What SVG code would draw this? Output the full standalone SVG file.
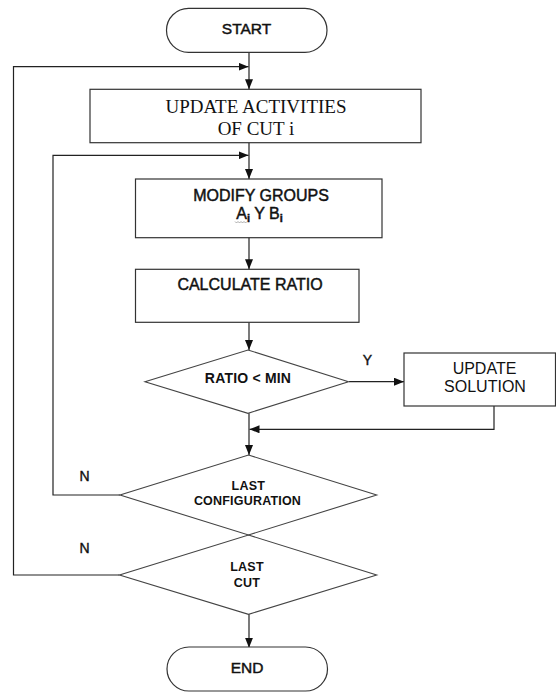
<svg xmlns="http://www.w3.org/2000/svg" width="556" height="693" viewBox="0 0 556 693">
<style>
.shape{fill:#fff;stroke:#333;stroke-width:1.2}
.dia{fill:none;stroke:#444;stroke-width:1.1}
.ln{fill:none;stroke:#222;stroke-width:1.2}
.t{font-family:"Liberation Sans",Arial,sans-serif;font-size:16px;fill:#111;text-anchor:middle}
.m{stroke:#111;stroke-width:0.45}
.s{font-family:"Liberation Serif","Times New Roman",serif;font-size:19px;fill:#111;text-anchor:middle}
.b{font-family:"Liberation Sans",Arial,sans-serif;font-size:12.5px;font-weight:bold;fill:#111;text-anchor:middle;letter-spacing:0.2px}
.lbl{font-family:"Liberation Sans",Arial,sans-serif;font-size:14px;fill:#111;text-anchor:middle;stroke:#111;stroke-width:0.4}
</style>
<defs>
<marker id="ah" markerWidth="10" markerHeight="8" refX="10" refY="4" orient="auto" markerUnits="userSpaceOnUse">
<path d="M0,0 L10,4 L0,8 Z" fill="#111"/>
</marker>
</defs>
<rect width="556" height="693" fill="#fff"/>
<g id="connectors">
<line class="ln" x1="249" y1="52.3" x2="249" y2="89.3" marker-end="url(#ah)"/>
<polyline class="ln" points="119.5,575 13.5,575 13.5,66.7 248.5,66.7" marker-end="url(#ah)"/>
<line class="ln" x1="249" y1="142.7" x2="249" y2="179" marker-end="url(#ah)"/>
<polyline class="ln" points="120,495 53,495 53,155.3 248.5,155.3" marker-end="url(#ah)"/>
<line class="ln" x1="249" y1="231.5" x2="249" y2="269.3" marker-end="url(#ah)"/>
<line class="ln" x1="249" y1="322.3" x2="249" y2="350" marker-end="url(#ah)"/>
<line class="ln" x1="349" y1="381.7" x2="404" y2="381.7" marker-end="url(#ah)"/>
<polyline class="ln" points="494,406 494,429.3 249.5,429.3" marker-end="url(#ah)"/>
<line class="ln" x1="249" y1="413.3" x2="249" y2="455" marker-end="url(#ah)"/>
<line class="ln" x1="249" y1="614.3" x2="249" y2="647.7" marker-end="url(#ah)"/>
<text class="lbl" x="367.5" y="365">Y</text>
<text class="lbl" x="84.5" y="480.7">N</text>
<text class="lbl" x="84.5" y="552.7">N</text>
</g>
<g id="start">
<rect class="shape" x="166.5" y="8.3" width="160.5" height="44" rx="22" ry="22"/>
<text class="t m" style="font-size:15.5px" x="246.5" y="33.5">START</text>
</g>
<g id="update-activities">
<rect class="shape" x="90" y="89.3" width="331" height="53.4"/>
<text class="s" x="256" y="113.3">UPDATE ACTIVITIES</text>
<text class="s" x="256" y="135">OF CUT i</text>
</g>
<g id="modify-groups">
<rect class="shape" x="135.5" y="179" width="246.5" height="58.7"/>
<text class="t m" x="261" y="200.7">MODIFY GROUPS</text>
<text class="t m" x="259.5" y="219.3">A<tspan style="font-size:11px;font-weight:bold" dy="3">i</tspan><tspan dy="-3"> Y B</tspan><tspan style="font-size:11px;font-weight:bold" dy="3">i</tspan></text>
<polyline points="235,221.5 236.5,223 238,221.5 239.5,223 241,221.5 242.5,223 244,221.5 245.5,223 247,221.5" fill="none" stroke="#8a8a8a" stroke-width="0.7"/>
</g>
<g id="calculate-ratio">
<rect class="shape" x="135.5" y="269.3" width="223.5" height="53"/>
<text class="t m" x="250" y="290">CALCULATE RATIO</text>
</g>
<g id="ratio-min">
<polygon class="dia" points="248,350 348.5,381.7 248,413.3 145,381.7"/>
<text class="b" style="font-size:14px" x="248" y="382.7">RATIO &lt; MIN</text>
</g>
<g id="update-solution">
<rect class="shape" x="404" y="353" width="151.5" height="53"/>
<text class="t" x="484.5" y="374">UPDATE</text>
<text class="t" x="485" y="392.3">SOLUTION</text>
</g>
<g id="last-configuration">
<polygon class="dia" points="248.5,455 376.7,495 248.5,535 120,495"/>
<text class="b" x="248.3" y="490">LAST</text>
<text class="b" x="247.5" y="505">CONFIGURATION</text>
</g>
<g id="last-cut">
<polygon class="dia" points="248.5,535 376.7,575 248.5,614.3 119.5,575"/>
<text class="b" x="247" y="570.7">LAST</text>
<text class="b" x="247" y="587.3">CUT</text>
</g>
<g id="end">
<rect class="shape" x="167" y="647" width="160.5" height="44" rx="22" ry="22"/>
<text class="t m" style="font-size:15.5px" x="247" y="673.3">END</text>
</g>
</svg>
